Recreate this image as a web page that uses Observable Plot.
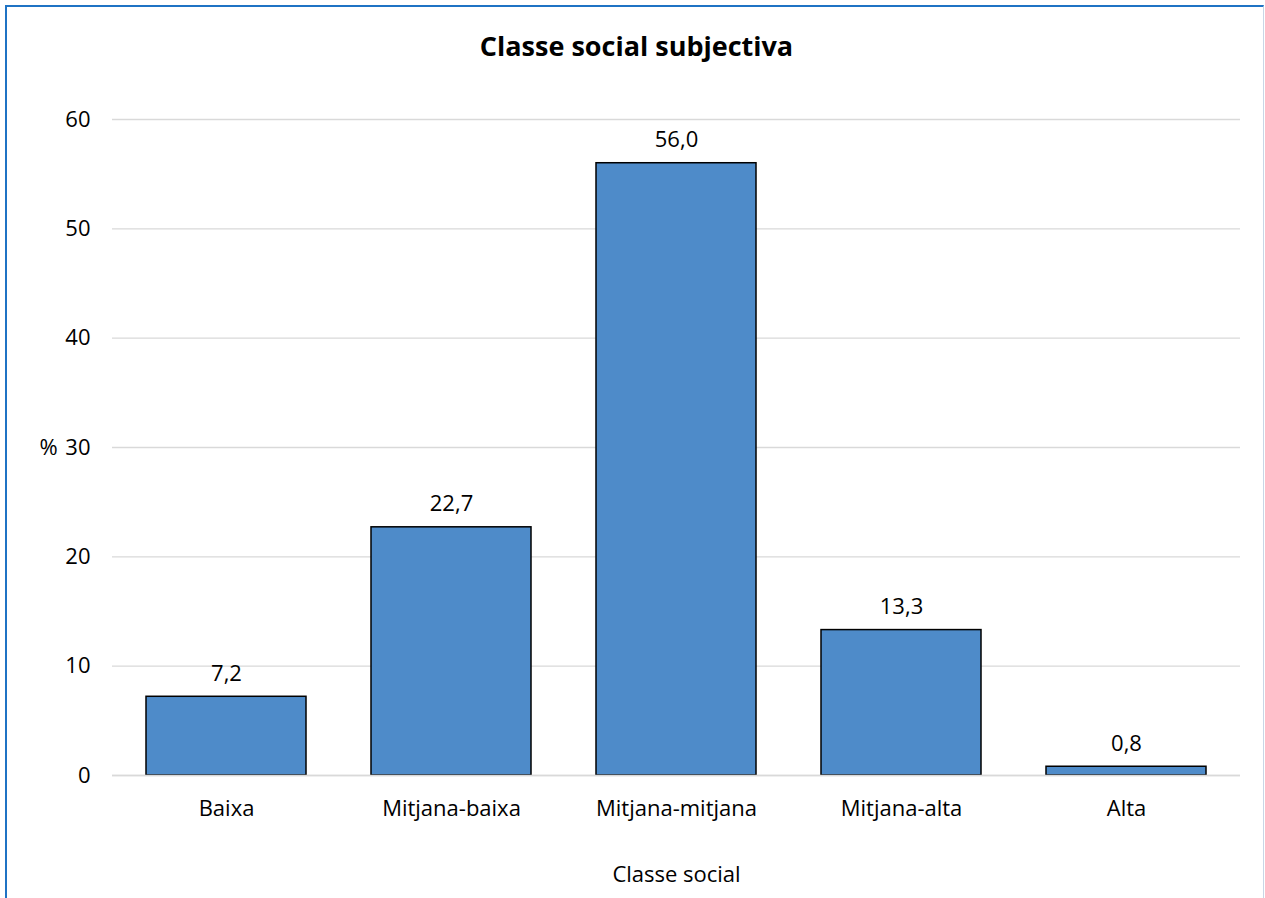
<!DOCTYPE html>
<html>
<head>
<meta charset="utf-8">
<script src="https://cdn.jsdelivr.net/npm/d3@7"></script>
<script src="https://cdn.jsdelivr.net/npm/@observablehq/plot@0.6"></script>
<style>
  html, body { margin: 0; padding: 0; background: #fff; }
  body { width: 1265px; height: 898px; overflow: hidden; position: relative; font-family: "Open Sans", sans-serif; }
  #frame { position: absolute; left: 5px; top: 5px; width: 1259px; height: 910px;
           border-left: 2px solid #1f73c4; border-top: 2px solid #1f73c4; border-right: 1px solid #c9d6e6; box-sizing: border-box; }
  #title { position: absolute; left: 4px; width: 1265px; top: 27px; text-align: center; font-weight: bold; font-size: 27px; line-height: 38px; color: #000; }
  #chart { position: absolute; left: 0; top: 80px; }
</style>
</head>
<body>
<div id="frame"></div>
<div id="title">Classe social subjectiva</div>
<div id="chart"></div>
<script>
const categories = ["Baixa", "Mitjana-baixa", "Mitjana-mitjana", "Mitjana-alta", "Alta"];
const values = [7.2, 22.7, 56.0, 13.3, 0.8];
const yTicks = [0, 10, 20, 30, 40, 50, 60];
const xLabel = "Classe social";
const yLabel = "%";

const data = categories.map((c, i) => ({cat: c, val: values[i]}));
const fmt = v => v.toFixed(1).replace(".", ",");
const FS = 22;

const chart = Plot.plot({
  width: 1265,
  height: 818,
  marginLeft: 112,
  marginRight: 25,
  marginTop: 39,
  marginBottom: 123,
  style: { fontFamily: "'Open Sans', sans-serif", fontSize: FS + "px", color: "#000", background: "transparent" },
  x: { domain: categories, paddingInner: 0.29, paddingOuter: 0.145, label: null },
  y: { domain: [0, 60], label: null },
  marks: [
    Plot.gridY(yTicks, { stroke: "#d9d9d9", strokeOpacity: 1, strokeWidth: 1.3 }),
    Plot.barY(data, { x: "cat", y: "val", fill: "#4e8bc9", stroke: "#000", strokeWidth: 1.5 }),
    Plot.ruleY([0], { stroke: "#d9d9d9", strokeWidth: 1.3 }),
    Plot.text(data, { x: "cat", y: "val", text: d => fmt(d.val), lineAnchor: "bottom", dy: -16, fontSize: FS, fill: "#000" }),
    Plot.axisY(yTicks, { tickSize: 0, tickPadding: 22, label: null, fontSize: FS }),
    Plot.axisX({ tickSize: 0, tickPadding: 25, label: xLabel, labelAnchor: "center", labelArrow: "none", labelOffset: 106, fontSize: FS }),
    Plot.text([yLabel], { frameAnchor: "left", dx: -73, fontSize: FS, fill: "#000" })
  ]
});
document.getElementById("chart").appendChild(chart);
</script>
</body>
</html>
